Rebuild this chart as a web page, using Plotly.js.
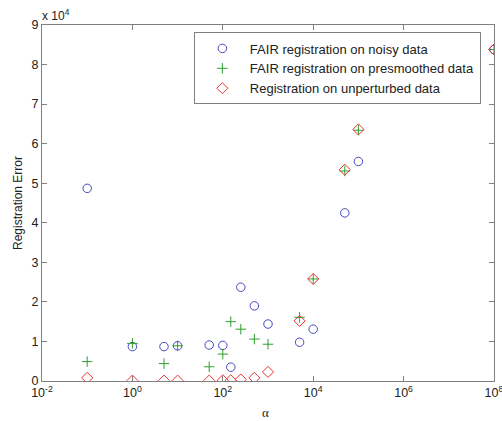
<!DOCTYPE html>
<html>
<head>
<meta charset="utf-8">
<script src="https://cdn.plot.ly/plotly-3.0.1.min.js"></script>
<style>html,body{margin:0;padding:0;background:#fff;}#chart{width:502px;height:421px;}</style>
</head>
<body>
<div id="chart"></div>
<script>
const alphaValues = [0.1, 1, 5, 10, 50, 100, 150, 250, 500, 1000, 5000, 10000, 50000, 100000, 100000000];
const noisyErr =      [48700, 8700, 8700, 8900, 9100, 9000, 3500, 23700, 19000, 14400, 9800, 13100, 42500, 55500, 83800];
const presmoothErr =  [4900, 9500, 4400, 8900, 3600, 6800, 15000, 13100, 10600, 9300, 16100, 25800, 53100, 63400, 83800];
const unperturbedErr = [800, 100, 100, 100, 100, 200, 200, 400, 800, 2300, 15200, 25800, 53400, 63600, 83800];
const seriesNames = ['FAIR registration on noisy data', 'FAIR registration on presmoothed data', 'Registration on unperturbed data'];
const xTickVals = [0.01, 1, 100, 10000, 1000000, 100000000];
const xTickText = ['10<sup>-2</sup>', '10<sup>0</sup>', '10<sup>2</sup>', '10<sup>4</sup>', '10<sup>6</sup>', '10<sup>8</sup>'];
const yTickVals = [0, 10000, 20000, 30000, 40000, 50000, 60000, 70000, 80000, 90000];
const yTickText = ['0', '1', '2', '3', '4', '5', '6', '7', '8', '9'];

const font = {family: 'Liberation Sans, Arial, sans-serif', size: 12, color: '#222'};
const tickFont = {family: 'Liberation Sans, Arial, sans-serif', size: 12.5, color: '#222'};
const legendFont = {family: 'Liberation Sans, Arial, sans-serif', size: 13, color: '#222'};
const traces = [
  {x: alphaValues, y: noisyErr, name: seriesNames[0], mode: 'markers', type: 'scatter',
   marker: {symbol: 'circle-open', size: 8.5, color: '#4848c4', line: {width: 1, color: '#4848c4'}}},
  {x: alphaValues, y: presmoothErr, name: seriesNames[1], mode: 'markers', type: 'scatter',
   marker: {symbol: 'cross-thin-open', size: 7.5, color: '#2ca02c', line: {width: 1, color: '#2ca02c'}}},
  {x: alphaValues, y: unperturbedErr, name: seriesNames[2], mode: 'markers', type: 'scatter',
   marker: {symbol: 'diamond-open', size: 8.5, color: '#ee3030', line: {width: 1, color: '#ee3030'}}}
];
const axisCommon = {showgrid: false, zeroline: false, showline: true, linecolor: '#808080', linewidth: 1,
  mirror: 'ticks', ticks: 'inside', ticklen: 5, tickcolor: '#808080', tickfont: tickFont,
  ticklabeloverflow: 'allow'};
const layout = {
  width: 502, height: 421,
  margin: {l: 42, r: 7.5, t: 25, b: 40},
  paper_bgcolor: '#fff', plot_bgcolor: '#fff',
  font: font,
  showlegend: true,
  legend: {x: 0.336, y: 0.979, xanchor: 'left', yanchor: 'top', bgcolor: '#fff',
    bordercolor: '#808080', borderwidth: 1, itemwidth: 45, font: legendFont, tracegroupgap: 0},
  xaxis: Object.assign({}, axisCommon, {type: 'log', range: [-2, 8], tickmode: 'array',
    tickvals: xTickVals, ticktext: xTickText}),
  yaxis: Object.assign({}, axisCommon, {range: [0, 90000], tickmode: 'array',
    tickvals: yTickVals, ticktext: yTickText,
    title: {text: 'Registration Error', font: font, standoff: 6}}),
  annotations: [
    {xref: 'paper', yref: 'paper', x: 0, y: 1, xanchor: 'left', yanchor: 'bottom',
     text: 'x 10<sup>4</sup>', showarrow: false, font: font, xshift: -2, yshift: 0},
    {xref: 'paper', yref: 'paper', x: 0.495, y: 0, xanchor: 'center', yanchor: 'middle',
     text: 'α', showarrow: false, yshift: -31, borderpad: 0,
     font: {family: 'Liberation Serif, serif', size: 13, color: '#222'}}
  ]
};
Plotly.newPlot('chart', traces, layout, {displayModeBar: false, staticPlot: true});
</script>
</body>
</html>
